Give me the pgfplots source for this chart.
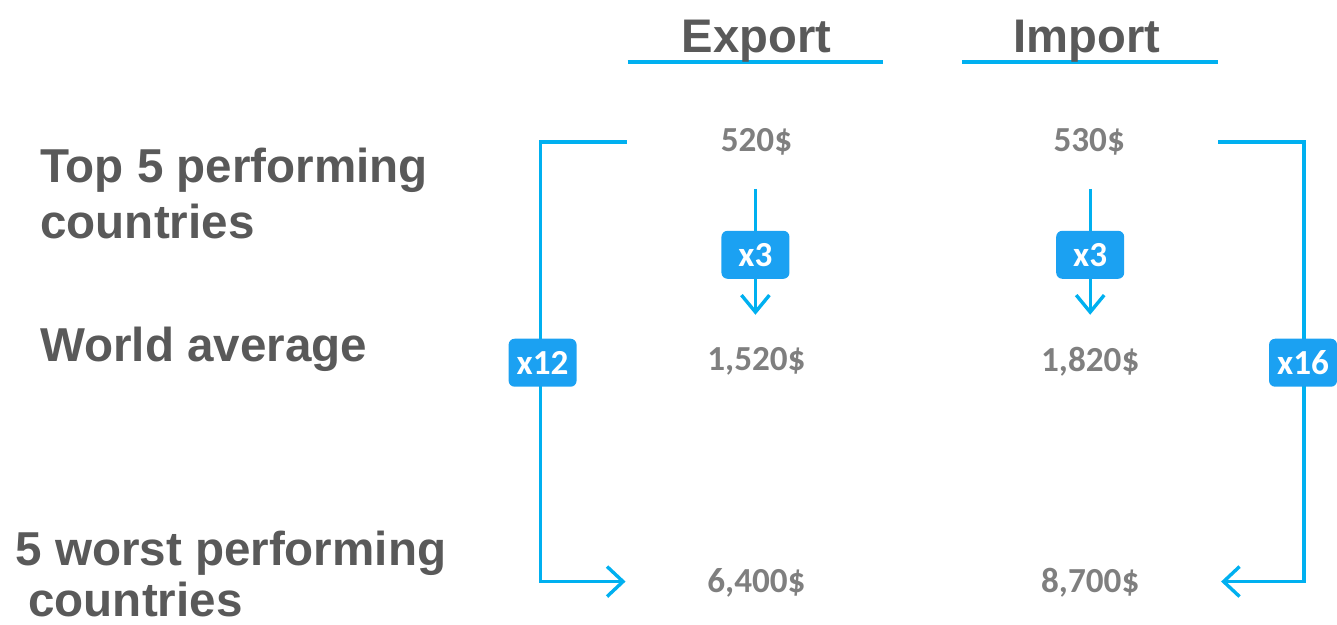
\documentclass[border=0pt]{standalone}
\usepackage{pgfplots}
\pgfplotsset{compat=1.18}
\usepackage{fontspec}
\setmainfont{Liberation Sans}
\newfontfamily\calibri{Carlito}
\usetikzlibrary{arrows.meta}

\definecolor{linecol}{RGB}{0,176,240}
\definecolor{badgecol}{RGB}{27,161,242}
\definecolor{headcol}{RGB}{89,89,89}
\definecolor{valcol}{RGB}{127,127,127}

\begin{document}
\begin{tikzpicture}
\begin{axis}[
  width=668.5pt, height=312.5pt,
  scale only axis,
  xmin=0, xmax=1337,
  ymin=0, ymax=625,
  y dir=reverse,
  hide axis,
  clip=false,
]
% frame the page
\addplot[draw=none] coordinates {(0,0) (1337,625)};

% headings underline
\addplot[linecol, line width=2pt] coordinates {(628,62) (884,62)};
\addplot[linecol, line width=2pt] coordinates {(963,62) (1219,62)};

% brackets
\addplot[linecol, line width=1.7pt, -{Straight Barb[length=8pt,width=15pt,line width=1.7pt]}]
  coordinates {(627,142) (541,142) (541,582) (626,582)};
\addplot[linecol, line width=1.7pt, -{Straight Barb[length=8pt,width=15pt,line width=1.7pt]}]
  coordinates {(1219,142) (1305,142) (1305,582) (1222,582)};

% small arrows
\addplot[linecol, line width=1.7pt, -{Straight Barb[length=8.5pt,width=14pt,line width=1.7pt]}]
  coordinates {(756,189) (756,315)};
\addplot[linecol, line width=1.7pt, -{Straight Barb[length=8.5pt,width=14pt,line width=1.7pt]}]
  coordinates {(1091,189) (1091,315)};

% values
\addplot[only marks, mark=none, point meta=explicit symbolic,
  nodes near coords,
  every node near coord/.append style={anchor=center, text=valcol, font=\calibri\bfseries\fontsize{17.6pt}{20pt}\selectfont}]
  table[meta=label, col sep=semicolon] {
x;y;label
757;142;520\$
1090;142;530\$
757;362;1,520\$
1091;362;1,820\$
757;583;6,400\$
1091;583;8,700\$
};

% badges
\addplot[only marks, mark=none, point meta=explicit symbolic,
  nodes near coords,
  every node near coord/.append style={anchor=center, fill=badgecol, text=white,
    rounded corners=3pt, inner sep=0pt, minimum width=34pt, minimum height=24pt,
    font=\calibri\bfseries\fontsize{17.6pt}{20pt}\selectfont}]
  table[meta=label, col sep=semicolon] {
x;y;label
756;255;x3
1091;255;x3
543;363;x12
1304;363;x16
};

% headings
\node[anchor=base, text=headcol, font=\bfseries\fontsize{23.6pt}{28pt}\selectfont] at (axis cs:757,53) {Export};
\node[anchor=base, text=headcol, font=\bfseries\fontsize{23.6pt}{28pt}\selectfont] at (axis cs:1088,53) {Import};

% row labels
\node[anchor=base west, inner sep=0pt, text=headcol, font=\bfseries\fontsize{23.8pt}{28pt}\selectfont] at (axis cs:40,183) {Top 5 performing};
\node[anchor=base west, inner sep=0pt, text=headcol, font=\bfseries\fontsize{23.8pt}{28pt}\selectfont] at (axis cs:40,239) {countries};
\node[anchor=base west, inner sep=0pt, text=headcol, font=\bfseries\fontsize{23.8pt}{28pt}\selectfont] at (axis cs:40,362) {World average};
\node[anchor=base west, inner sep=0pt, text=headcol, font=\bfseries\fontsize{23.8pt}{28pt}\selectfont] at (axis cs:15,566) {5 worst performing};
\node[anchor=base west, inner sep=0pt, text=headcol, font=\bfseries\fontsize{23.8pt}{28pt}\selectfont] at (axis cs:28,617) {countries};
\end{axis}
\end{tikzpicture}
\end{document}
